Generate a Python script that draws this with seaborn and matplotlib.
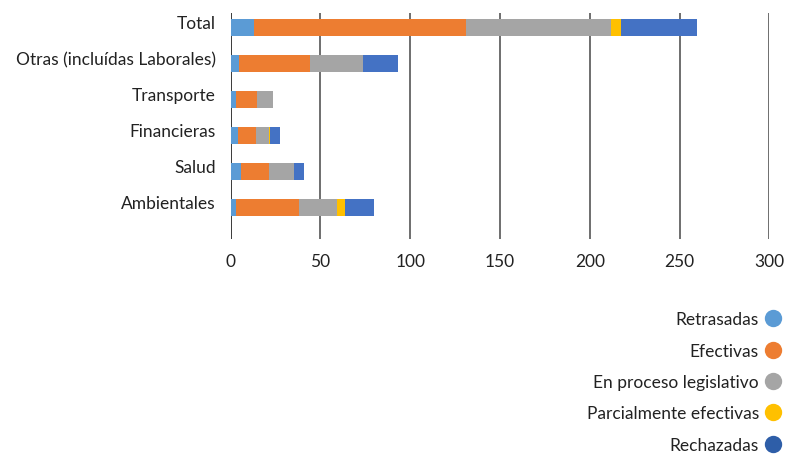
import numpy as np
import pandas as pd
import matplotlib
matplotlib.use("Agg")
import matplotlib.pyplot as plt
import matplotlib.transforms as mtrans
from matplotlib.lines import Line2D
import seaborn as sns

categories = ["Total", "Otras (incluídas Laborales)", "Transporte", "Financieras", "Salud", "Ambientales"]
series_names = ["Retrasadas", "Efectivas", "En proceso legislativo", "Parcialmente efectivas", "Rechazadas"]
retrasadas = [13, 5, 3, 4, 6, 3]
efectivas = [118, 39, 12, 10, 15.5, 35]
en_proceso = [81, 30, 8.5, 7.5, 14, 21]
parcialmente = [5.5, 0, 0, 0.5, 0, 5]
rechazadas = [42, 19, 0, 5.5, 5.5, 16]
x_ticks = [0, 50, 100, 150, 200, 250, 300]

bar_colors = ["#5B9BD5", "#ED7D31", "#A5A5A5", "#FFC000", "#4472C4"]
legend_colors = ["#5B9BD5", "#ED7D31", "#A5A5A5", "#FFC000", "#2E5EA8"]

sns.set_theme(style="white")
plt.rcParams["font.family"] = ["Lato", "DejaVu Sans"]

values = np.array([retrasadas, efectivas, en_proceso, parcialmente, rechazadas])
cum = np.cumsum(values, axis=0)

fig = plt.figure(figsize=(7.85, 4.56), dpi=100)
ax = fig.add_axes([230.5 / 785, 1 - 240 / 456, 539 / 785, 226 / 456])

# draw from outermost cumulative layer to innermost
for i in range(len(series_names) - 1, -1, -1):
    df = pd.DataFrame({"cat": categories, "val": cum[i]})
    sns.barplot(data=df, x="val", y="cat", orient="h", color=bar_colors[i],
                saturation=1, width=0.45, ax=ax, edgecolor="none")

ax.set_xlim(0, 300)
ax.set_ylim(5.875, -0.4)
ax.set_xticks(x_ticks)
ax.set_xticklabels([str(t) for t in x_ticks])
ax.set_xlabel("")
ax.set_ylabel("")
for s in ax.spines.values():
    s.set_visible(False)
for t in x_ticks:
    ax.axvline(t, color="#3a3a3a" if t == 0 else "#6e6e6e", lw=1.4, zorder=0)
ax.tick_params(axis="both", length=0, labelsize=12.5, colors="#222222")
ax.tick_params(axis="y", pad=10.5)
ax.tick_params(axis="x", pad=10)

offset = mtrans.ScaledTranslation(0, 6 / 100, fig.dpi_scale_trans)
for lbl in ax.get_yticklabels():
    lbl.set_transform(lbl.get_transform() + offset)

handles = [Line2D([], [], marker="o", linestyle="none", markersize=12.5,
                  markerfacecolor=c, markeredgecolor="none") for c in legend_colors]
leg = fig.legend(handles, series_names, loc="upper right", bbox_to_anchor=(1.0, 1 - 309 / 456),
                 markerfirst=False, frameon=False, fontsize=12.5, labelspacing=0.88,
                 handletextpad=0.3, handlelength=1.0, borderaxespad=0.0, borderpad=0.2)
for t in leg.get_texts():
    t.set_color("#222222")

fig.savefig("out.png", dpi=100)
